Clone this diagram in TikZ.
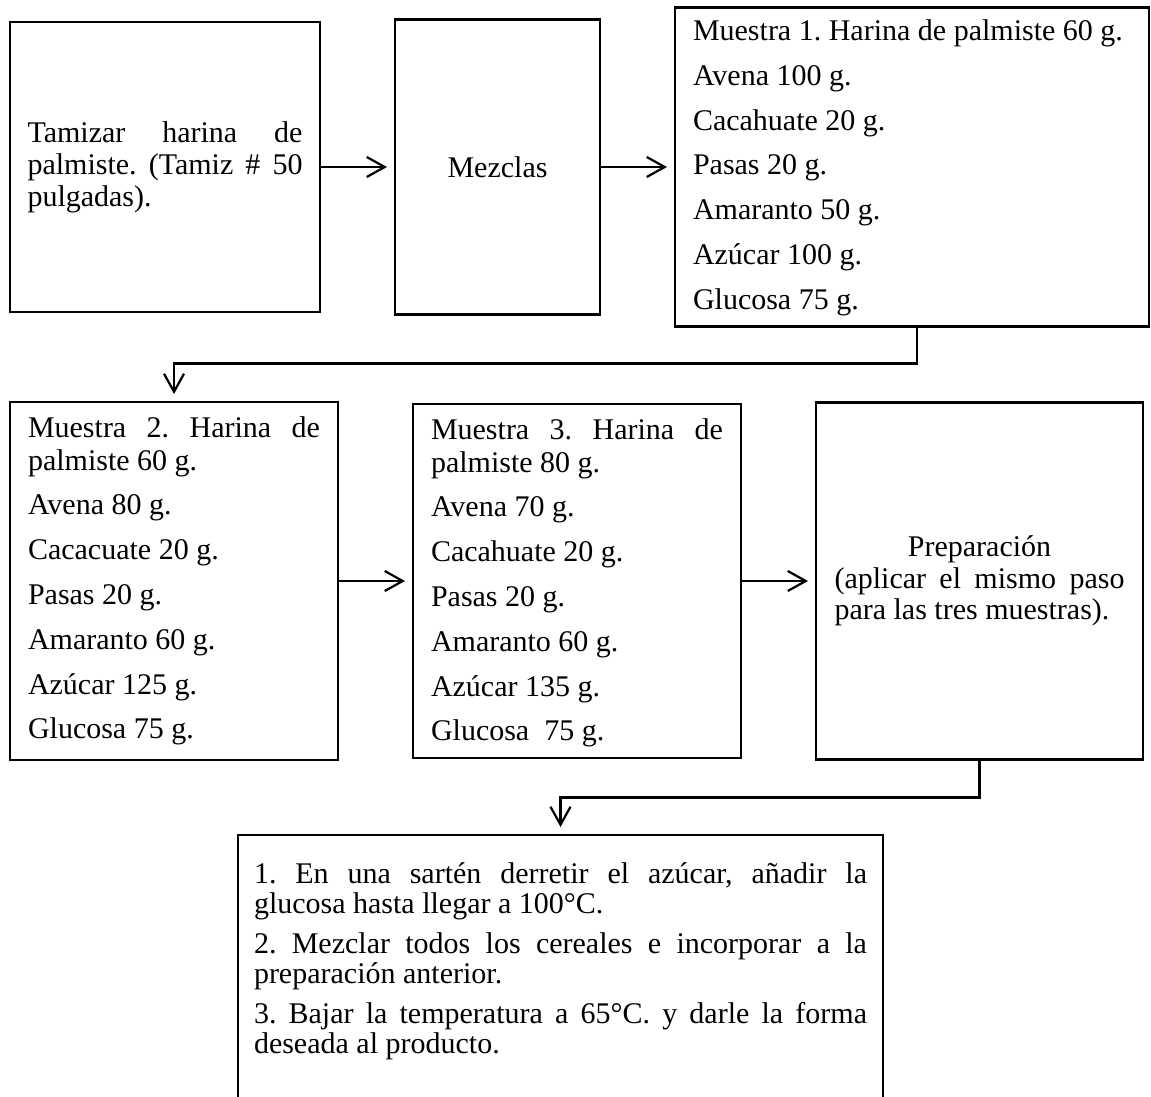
\documentclass[tikz,border=0pt]{standalone}
\usepackage{fontspec}
\setmainfont{Liberation Serif}
\usetikzlibrary{arrows.meta,positioning}
\hyphenpenalty=10000
\exhyphenpenalty=10000
\tolerance=10000
\frenchspacing
\tikzset{
  stepbox/.style={draw=black,line width=1.3pt,inner sep=0pt,outer sep=0pt,
    font=\fontsize{15pt}{16.5pt}\selectfont},
  flow/.style={-{Straight Barb[length=9pt,width=10pt]},line width=1.1pt,
    shorten >=4pt}
}
\newcommand{\steptext}[3]{\parbox{#1}{\fontsize{15pt}{#2}\selectfont #3}}
\newcommand{\recipe}[4]{\parbox[c][#1][t]{#2}{\fontsize{15pt}{16.5pt}\selectfont
  \setlength{\parskip}{5.9pt}\rule{0pt}{#3}#4}}

\begin{document}
\begin{tikzpicture}[x=0.5pt,y=-0.5pt,node distance=45pt and 37.5pt]
  \useasboundingbox[fill=white] (0,0) rectangle (1151,1097);
  \clip (0,0) rectangle (1151,1097);
  % first row
  \node[stepbox,minimum width=155pt,minimum height=145pt] (tamiz) at (165,167)
    {\steptext{137.5pt}{16pt}{Tamizar harina de palmiste. (Tamiz \# 50 pulgadas).}};
  \node[stepbox,minimum width=102.5pt,minimum height=147.5pt,right=of tamiz] (mezclas) {Mezclas};
  \node[stepbox,minimum width=237pt,minimum height=159.5pt,right=of mezclas] (muestra1)
    {\recipe{159.5pt}{219pt}{16.5pt}{Muestra 1. Harina de palmiste 60 g.\par
      Avena 100 g.\par Cacahuate 20 g.\par Pasas 20 g.\par Amaranto 50 g.\par
      Azúcar 100 g.\par Glucosa 75 g.}};
  % second row
  \node[stepbox,minimum width=164pt,minimum height=179pt,
    below=of tamiz.south west,anchor=north west] (muestra2)
    {\recipe{179pt}{146pt}{17.5pt}{Muestra 2. Harina de palmiste 60 g.\par
      Avena 80 g.\par Cacacuate 20 g.\par Pasas 20 g.\par Amaranto 60 g.\par
      Azúcar 125 g.\par Glucosa 75 g.}};
  \node[stepbox,minimum width=164pt,minimum height=177pt,right=of muestra2] (muestra3)
    {\recipe{177pt}{146pt}{17.5pt}{Muestra 3. Harina de palmiste 80 g.\par
      Avena 70 g.\par Cacahuate 20 g.\par Pasas 20 g.\par Amaranto 60 g.\par
      Azúcar 135 g.\par Glucosa\ \ 75 g.}};
  \node[stepbox,minimum width=163.5pt,minimum height=178.5pt,right=of muestra3] (prep)
    {\parbox{145pt}{\fontsize{15pt}{15.5pt}\selectfont\setlength{\parskip}{0.5pt}%
      {\centering Preparación\par}
      (aplicar el mismo paso para las tres muestras).}};
  % last step, cut by the page
  \node[stepbox,minimum width=322.5pt,minimum height=160pt,anchor=north west] (final) at (238,835)
    {\parbox[c][160pt][t]{306.5pt}{\fontsize{15pt}{15pt}\selectfont
      \setlength{\parskip}{5pt}\rule{0pt}{24pt}1. En una sartén derretir el azúcar,
      añadir la\linebreak glucosa hasta llegar a 100°C.\par
      2. Mezclar todos los cereales e incorporar a la preparación anterior.\par
      3. Bajar la temperatura a 65°C. y darle la forma deseada al producto.}};
  % connectors
  \draw[flow] (tamiz) -- (mezclas);
  \draw[flow] (mezclas) -- (muestra1);
  \draw[flow] ([xshift=2.5pt]muestra1.south) -- ++(0,37) -| (muestra2.north);
  \draw[flow] (muestra2) -- (muestra3);
  \draw[flow] (muestra3) -- (prep);
  \draw[flow] (prep.south) -- ++(0,38) -| (final.north);
\end{tikzpicture}
\end{document}
